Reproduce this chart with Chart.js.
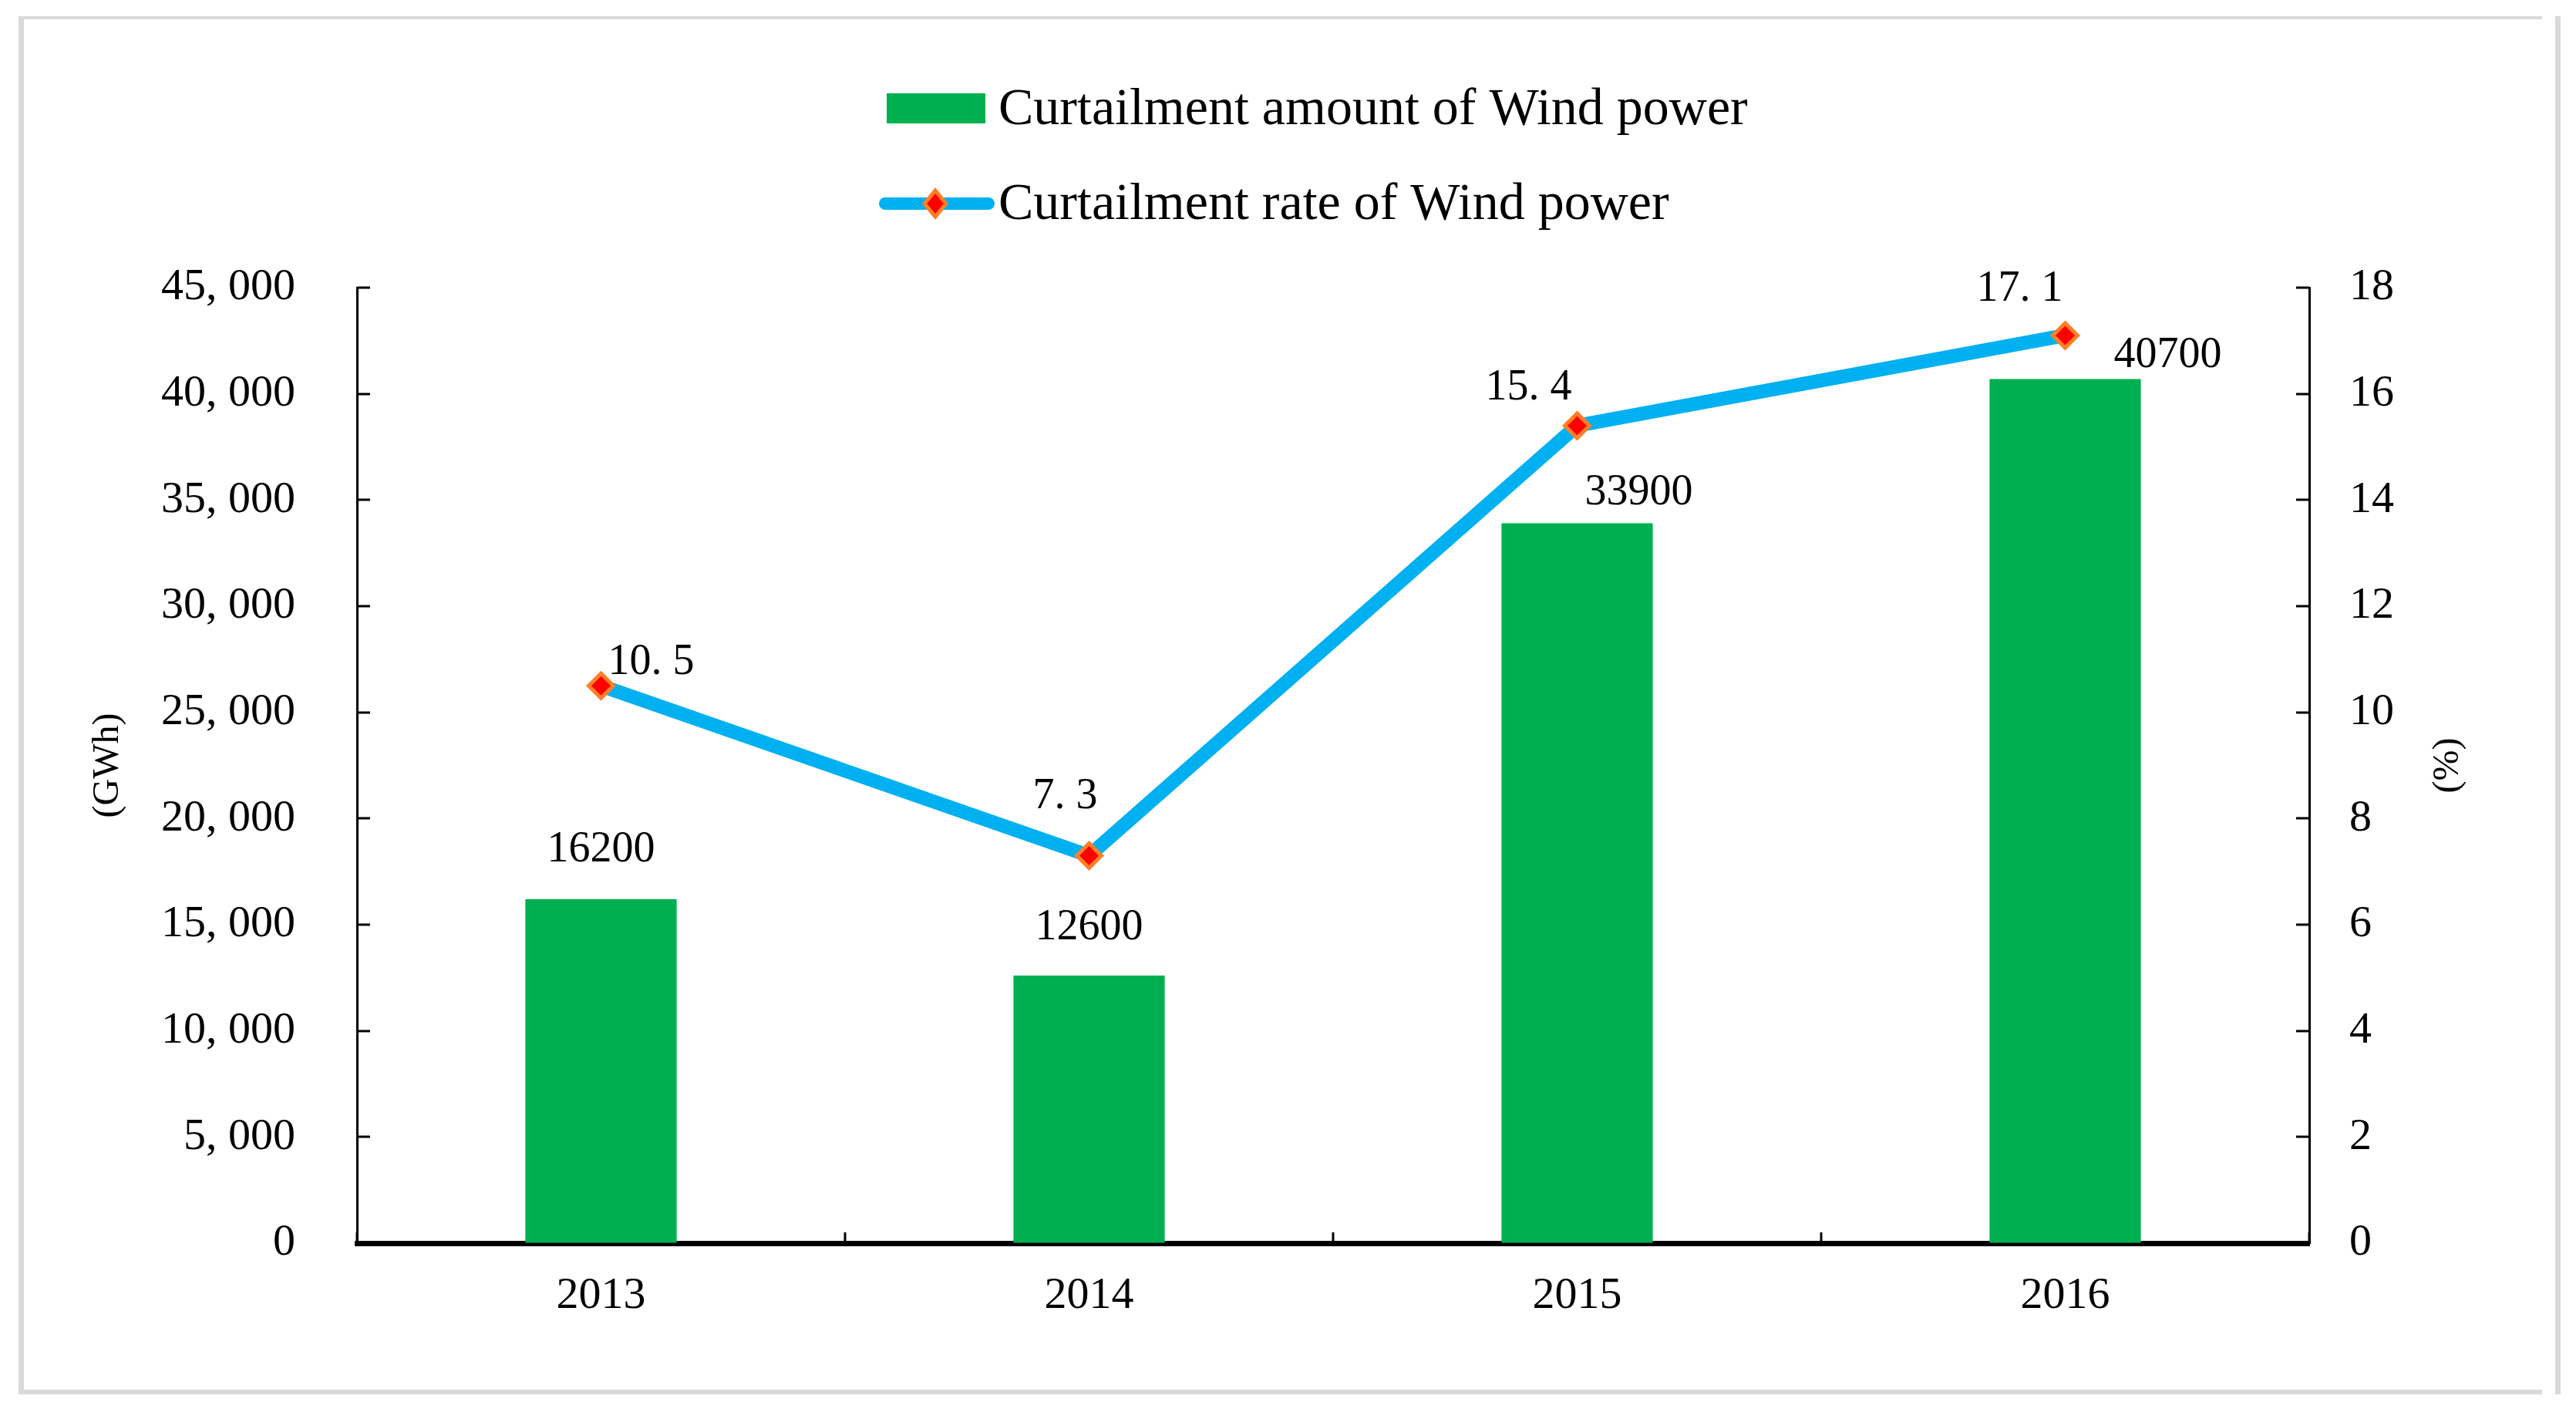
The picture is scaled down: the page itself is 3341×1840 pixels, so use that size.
<!DOCTYPE html>
<html>
<head>
<meta charset="utf-8">
<script src="https://cdn.jsdelivr.net/npm/chart.js@4"></script>
<style>
  html, body { margin: 0; padding: 0; background: #fff; }
  #wrap { width: 3341px; height: 1840px; position: relative; }
</style>
</head>
<body>
<div id="wrap"><canvas id="myChart"></canvas></div>
<script>
const years = ['2013', '2014', '2015', '2016'];
const curtailAmount = [16200, 12600, 33900, 40700];   // GWh
const curtailRate = [10.5, 7.3, 15.4, 17.1];          // %
const amountLabel = 'Curtailment amount of Wind power';
const rateLabel = 'Curtailment rate of Wind power';

const GREEN = '#00B050';
const BLUE = '#00B0F0';
const SERIF = '"Liberation Serif", "Times New Roman", serif';

// label offsets from the element (dx, dy to text baseline)
const barLabelOffsets = [[0, -49], [0, -47], [80, -25], [133, -15]];
const lineLabelOffsets = [[65, -15], [-31, -62], [-63, -34], [-59, -45]];

function fmtThousands(v) {
  if (v === 0) return '0';
  return v.toLocaleString('en-US').replace(',', ', ');
}

const framePlugin = {
  id: 'frame',
  beforeDraw(chart) {
    const ctx = chart.ctx;
    ctx.save();
    ctx.fillStyle = '#fff';
    ctx.fillRect(0, 0, chart.width, chart.height);
    ctx.fillStyle = '#d9d9d9';
    ctx.fillRect(24, 21, 3297 - 24, 4);      // top
    ctx.fillRect(24, 1802, 3297 - 24, 6);    // bottom
    ctx.fillRect(24, 21, 7, 1787);           // left
    ctx.fillRect(3314, 21, 7, 1787);         // right
    ctx.restore();
  }
};

const innerTicksPlugin = {
  id: 'innerTicks',
  afterDatasetsDraw(chart) {
    const ctx = chart.ctx;
    const { x, y, y1 } = chart.scales;
    ctx.save();
    ctx.strokeStyle = '#000';
    ctx.lineWidth = 3;
    ctx.beginPath();
    y.ticks.forEach(t => {
      const py = Math.round(y.getPixelForValue(t.value));
      ctx.moveTo(y.right, py);
      ctx.lineTo(y.right + 17, py);
    });
    y1.ticks.forEach(t => {
      const py = Math.round(y1.getPixelForValue(t.value));
      ctx.moveTo(y1.left, py);
      ctx.lineTo(y1.left - 17, py);
    });
    for (let i = 0; i <= years.length; i++) {
      const px = Math.round(x.getPixelForValue(i - 0.5));
      ctx.moveTo(px, x.top);
      ctx.lineTo(px, x.top - 14);
    }
    ctx.stroke();
    ctx.restore();
  }
};

const valueLabelsPlugin = {
  id: 'valueLabels',
  afterDatasetsDraw(chart) {
    const ctx = chart.ctx;
    ctx.save();
    ctx.fillStyle = '#000';
    ctx.font = '56px ' + SERIF;
    ctx.textAlign = 'center';
    ctx.textBaseline = 'alphabetic';
    const barMeta = chart.getDatasetMeta(1);
    barMeta.data.forEach((el, i) => {
      const o = barLabelOffsets[i];
      ctx.fillText(String(curtailAmount[i]), el.x + o[0], el.y + o[1]);
    });
    const lineMeta = chart.getDatasetMeta(0);
    lineMeta.data.forEach((el, i) => {
      const o = lineLabelOffsets[i];
      ctx.fillText(String(curtailRate[i]).replace('.', '. '), el.x + o[0], el.y + o[1]);
    });
    ctx.restore();
  }
};

const legendAndTitlesPlugin = {
  id: 'legendTitles',
  afterDraw(chart) {
    const ctx = chart.ctx;
    const area = chart.chartArea;
    ctx.save();
    // legend row 1
    ctx.fillStyle = GREEN;
    ctx.fillRect(1150, 121, 128, 39);
    ctx.fillStyle = '#000';
    ctx.font = '68px ' + SERIF;
    ctx.textAlign = 'left';
    ctx.textBaseline = 'middle';
    ctx.fillText(chart.data.datasets[1].label, 1295, 143);
    // legend row 2
    ctx.strokeStyle = BLUE;
    ctx.lineWidth = 16;
    ctx.lineCap = 'round';
    ctx.beginPath();
    ctx.moveTo(1148, 264);
    ctx.lineTo(1282, 264);
    ctx.stroke();
    ctx.beginPath();
    ctx.moveTo(1213, 247); ctx.lineTo(1227, 264); ctx.lineTo(1213, 281); ctx.lineTo(1199, 264);
    ctx.closePath();
    ctx.fillStyle = '#FF0000';
    ctx.strokeStyle = '#FF7F27';
    ctx.lineWidth = 5;
    ctx.lineCap = 'butt';
    ctx.fill();
    ctx.stroke();
    ctx.fillStyle = '#000';
    ctx.fillText(chart.data.datasets[0].label, 1295, 266);

    // axis titles, both rotated bottom-to-top
    const cy = (area.top + area.bottom) / 2;
    ctx.font = '48px ' + SERIF;
    ctx.textAlign = 'center';
    ctx.textBaseline = 'middle';
    ctx.translate(140, cy);
    ctx.rotate(-Math.PI / 2);
    ctx.fillText('(GWh)', 0, 0);
    ctx.rotate(Math.PI / 2);
    ctx.translate(3175 - 140, 0);
    ctx.rotate(-Math.PI / 2);
    ctx.fillText('(%)', 0, 0);
    ctx.restore();
  }
};

const ctx = document.getElementById('myChart').getContext('2d');
new Chart(ctx, {
  data: {
    labels: years,
    datasets: [{
      type: 'line',
      label: rateLabel,
      data: curtailRate,
      yAxisID: 'y1',
      borderColor: BLUE,
      borderWidth: 18,
      pointStyle: 'rectRot',
      pointRadius: 16,
      pointBackgroundColor: '#FF0000',
      pointBorderColor: '#FF7F27',
      pointBorderWidth: 5,
      tension: 0,
      order: 0
    }, {
      type: 'bar',
      label: amountLabel,
      data: curtailAmount,
      yAxisID: 'y',
      backgroundColor: GREEN,
      categoryPercentage: 1,
      barPercentage: 0.31,
      order: 1
    }]
  },
  options: {
    responsive: true,
    maintainAspectRatio: false,
    devicePixelRatio: 1,
    animation: false,
    layout: { padding: { top: 373, left: 0, right: 0, bottom: 0 } },
    plugins: {
      legend: { display: false },
      tooltip: { enabled: false }
    },
    scales: {
      x: {
        offset: true,
        grid: { drawOnChartArea: false, drawTicks: false },
        border: { display: true, color: '#000', width: 7 },
        ticks: { color: '#000', font: { family: SERIF, size: 58 }, padding: 34 },
        afterFit(scale) { scale.height = 228; }
      },
      y: {
        position: 'left',
        min: 0,
        max: 45000,
        grid: { drawOnChartArea: false, drawTicks: false },
        border: { display: true, color: '#000', width: 3 },
        ticks: {
          stepSize: 5000,
          color: '#000',
          font: { family: SERIF, size: 58 },
          padding: 80,
          callback: v => fmtThousands(v)
        },
        afterFit(scale) { scale.width = 463; }
      },
      y1: {
        position: 'right',
        min: 0,
        max: 18,
        grid: { drawOnChartArea: false, drawTicks: false },
        border: { display: true, color: '#000', width: 3 },
        ticks: {
          stepSize: 2,
          color: '#000',
          font: { family: SERIF, size: 58 },
          padding: 52
        },
        afterFit(scale) { scale.width = 346; }
      }
    }
  },
  plugins: [framePlugin, innerTicksPlugin, valueLabelsPlugin, legendAndTitlesPlugin]
});
</script>
</body>
</html>
